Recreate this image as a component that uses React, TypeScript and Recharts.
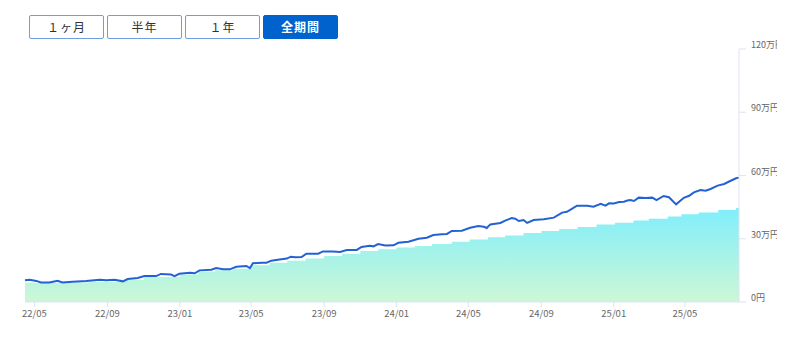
import React from 'react';
import { ComposedChart, Area, Line, XAxis, YAxis } from 'recharts';

const lineDates = [
  '2022-04-15','2022-04-23','2022-05-04','2022-05-12','2022-05-26','2022-06-09','2022-06-17','2022-07-04','2022-07-27','2022-08-19',
  '2022-08-30','2022-09-13','2022-09-27','2022-10-05','2022-10-22','2022-11-02','2022-11-22','2022-11-30','2022-12-17','2022-12-23',
  '2022-12-31','2023-01-18','2023-01-26','2023-02-03','2023-02-23','2023-03-03','2023-03-15','2023-03-26','2023-04-06','2023-04-23',
  '2023-04-29','2023-05-04','2023-05-19','2023-05-27','2023-06-04','2023-06-18','2023-06-30','2023-07-07','2023-07-14','2023-07-25',
  '2023-08-02','2023-08-22','2023-08-30','2023-09-16','2023-09-28','2023-10-09','2023-10-26','2023-11-03','2023-11-17','2023-11-23',
  '2023-12-01','2023-12-13','2023-12-27','2024-01-04','2024-01-21','2024-02-07','2024-02-21','2024-03-03','2024-03-17','2024-03-26',
  '2024-04-03','2024-04-20','2024-05-04','2024-05-18','2024-05-27','2024-06-01','2024-06-07','2024-06-24','2024-07-02','2024-07-13',
  '2024-07-19','2024-07-25','2024-08-02','2024-08-08','2024-08-19','2024-09-05','2024-09-22','2024-10-06','2024-10-14','2024-10-23',
  '2024-10-31','2024-11-17','2024-11-28','2024-12-10','2024-12-18','2024-12-24','2025-01-01','2025-01-10','2025-01-18','2025-01-24',
  '2025-01-29','2025-02-04','2025-02-12','2025-02-24','2025-03-07','2025-03-14','2025-03-26','2025-04-04','2025-04-16','2025-04-29',
  '2025-05-08','2025-05-16','2025-05-27','2025-06-05','2025-06-13','2025-06-25','2025-07-06','2025-07-17','2025-07-26','2025-07-31',
];
const lineValues = [
  10.3, 10.6, 10.0, 9.3, 9.3, 10.1, 9.3, 9.6, 10.0, 10.6,
  10.3, 10.6, 9.8, 10.9, 11.4, 12.3, 12.3, 13.3, 13.0, 12.3,
  13.4, 13.9, 13.6, 15.0, 15.3, 16.1, 15.5, 15.5, 16.7, 17.1,
  16.1, 18.4, 18.6, 18.6, 19.6, 20.2, 20.6, 21.5, 21.2, 21.3,
  22.9, 22.9, 24.0, 24.0, 23.7, 24.7, 24.7, 26.1, 26.7, 26.4,
  27.5, 26.8, 26.9, 28.1, 28.6, 30.0, 30.5, 31.8, 32.1, 32.3,
  33.7, 33.8, 35.2, 36.0, 35.7, 35.1, 36.8, 37.5, 38.6, 39.8,
  39.5, 38.4, 38.9, 37.5, 38.9, 39.2, 40.0, 42.4, 42.8, 44.3,
  45.7, 45.7, 45.2, 46.6, 45.7, 46.8, 46.7, 47.4, 47.6, 48.1,
  48.4, 47.9, 49.5, 49.3, 49.5, 48.3, 50.3, 49.7, 46.3, 49.4,
  50.4, 52.0, 53.1, 52.8, 53.6, 55.2, 56.0, 57.5, 58.7, 59.0,
];

const depositDates = [
  '2022-04-15','2022-05-01','2022-06-01','2022-07-01','2022-08-01','2022-09-01','2022-10-01','2022-11-01','2022-12-01',
  '2023-01-01','2023-02-01','2023-03-01','2023-04-01','2023-05-01','2023-06-01','2023-07-01','2023-08-01','2023-09-01',
  '2023-10-01','2023-11-01','2023-12-01','2024-01-01','2024-02-01','2024-03-01','2024-04-03','2024-05-03','2024-06-03',
  '2024-07-02','2024-08-02','2024-09-01','2024-10-01','2024-11-01','2024-12-03','2025-01-03','2025-02-03','2025-03-01',
  '2025-04-02','2025-04-25','2025-05-24','2025-06-26','2025-07-26','2025-07-31',
];
const depositValues = [
  9.3, 9.1, 9.1, 9.3, 9.6, 9.6, 10.6, 11.9, 11.9,
  13.1, 14.5, 15.1, 15.8, 17.4, 18.6, 19.6, 20.6, 21.8,
  22.9, 24.2, 25.0, 25.9, 26.6, 27.5, 28.6, 29.7, 30.7,
  31.6, 32.7, 33.7, 34.6, 35.6, 36.7, 37.6, 38.6, 39.5,
  40.6, 41.6, 42.5, 43.6, 44.6, 44.6,
];

const xTickDates = ['2022-05-01','2022-09-01','2023-01-01','2023-05-01','2023-09-01','2024-01-01','2024-05-01','2024-09-01','2025-01-01','2025-05-01'];
const xTickLabels = ['22/05','22/09','23/01','23/05','23/09','24/01','24/05','24/09','25/01','25/05'];
const yTicks = [0, 30, 60, 90, 120];
const yTickLabels = ['0円', '30万円', '60万円', '90万円', '120万円'];
const buttons = ['１ヶ月', '半年', '１年', '全期間'];
const activeButton = 3;

const ts = (d: string) => new Date(d + 'T00:00:00Z').getTime();

const rowsMap = new Map<number, any>();
lineDates.forEach((d, i) => {
  const t = ts(d);
  rowsMap.set(t, { ...(rowsMap.get(t) || { t }), value: lineValues[i] });
});
depositDates.forEach((d, i) => {
  const t = ts(d);
  rowsMap.set(t, { ...(rowsMap.get(t) || { t }), deposit: depositValues[i] });
});
const data = Array.from(rowsMap.values()).sort((a, b) => a.t - b.t);

const xTicks = xTickDates.map(ts);
const xLabelOf = (v: number) => {
  const i = xTicks.indexOf(v);
  return i >= 0 ? xTickLabels[i] : '';
};

const FONT = '"Noto Sans CJK JP", "Noto Sans", sans-serif';

const YTick = (props: any) => {
  const { x, y, payload } = props;
  const i = yTicks.indexOf(payload.value);
  return (
    <text x={x} y={y} dy={-1} fill="#666" fontSize={9} fontFamily={FONT} textAnchor="start">
      {i >= 0 ? yTickLabels[i] : ''}
    </text>
  );
};

export default function App() {
  return (
    <div style={{ position: 'absolute', left: 0, top: 0, width: 800, height: 339, background: '#fff', overflow: 'hidden' }}>
      {buttons.map((b, i) => {
        const active = i === activeButton;
        return (
          <div
            key={b}
            style={{
              position: 'absolute',
              left: 29 + i * 78,
              top: 15,
              width: 75,
              height: 24,
              boxSizing: 'border-box',
              border: active ? '1px solid #0062cc' : '1px solid #6f9de4',
              borderRadius: 2,
              background: active ? '#0062cc' : '#fff',
              color: active ? '#fff' : '#333',
              fontWeight: active ? 700 : 400,
              fontFamily: FONT,
              fontSize: 12,
              lineHeight: '22px',
              textAlign: 'center',
              letterSpacing: 1,
            }}
          >
            {b}
          </div>
        );
      })}
      <div style={{ position: 'absolute', left: 0, top: 0, width: 777, height: 339, overflow: 'hidden' }}>
        <ComposedChart width={800} height={339} data={data} margin={{ top: 49, right: 0, left: 25, bottom: 7 }}>
          <defs>
            <linearGradient id="depGrad" x1="0" y1="0" x2="0" y2="1">
              <stop offset="0%" stopColor="#80eefb" />
              <stop offset="100%" stopColor="#cdf7d6" />
            </linearGradient>
          </defs>
          <XAxis
            dataKey="t"
            type="number"
            scale="time"
            domain={['dataMin', 'dataMax']}
            ticks={xTicks}
            tickFormatter={xLabelOf}
            height={30}
            tickSize={5}
            tickMargin={3}
            stroke="#dde3f1"
            tick={{ fill: '#666', fontSize: 9.5, fontFamily: FONT }}
            tickLine={{ stroke: '#dde3f1' }}
          />
          <YAxis
            orientation="right"
            type="number"
            domain={[0, 120]}
            ticks={yTicks}
            width={61}
            tickSize={7}
            tickMargin={5}
            stroke="#dde3f1"
            tickLine={{ stroke: '#dde3f1' }}
            tick={YTick}
            interval={0}
          />
          <Area
            dataKey="deposit"
            type="stepAfter"
            stroke="none"
            fill="url(#depGrad)"
            fillOpacity={1}
            connectNulls
            isAnimationActive={false}
            dot={false}
            activeDot={false}
          />
          <Line
            dataKey="value"
            type="linear"
            stroke="#2262d4"
            strokeWidth={2}
            dot={false}
            activeDot={false}
            connectNulls
            isAnimationActive={false}
          />
        </ComposedChart>
      </div>
    </div>
  );
}
